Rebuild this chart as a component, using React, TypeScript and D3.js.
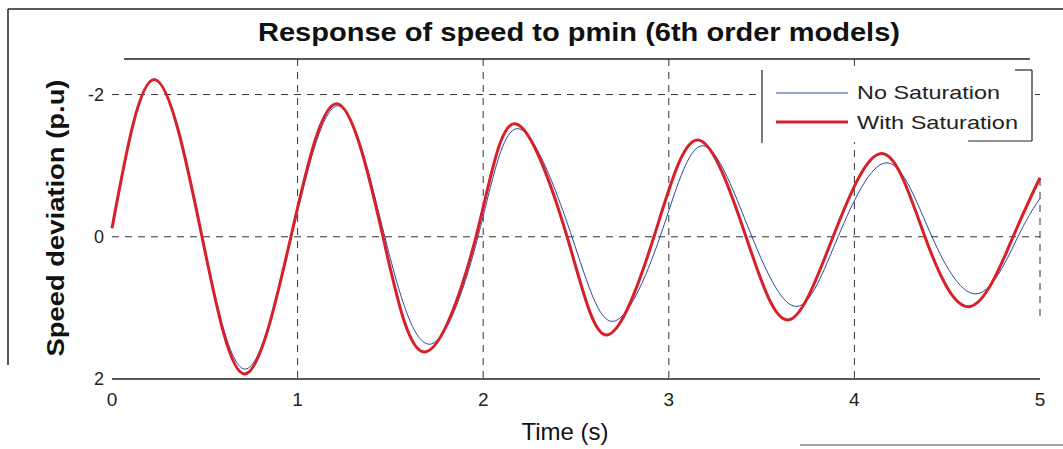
import React from "react";
import * as d3 from "d3";

// values (peaks, troughs, zero crossings)
const timeWith = [0, 0.232, 0.485, 0.717, 0.964, 1.212, 1.46, 1.686, 1.961, 2.171, 2.452, 2.667, 2.92, 3.157, 3.416, 3.642, 3.885, 4.149, 4.38, 4.623, 4.855, 5.0];
const speedWith = [-0.12, -2.21, 0, 1.93, 0, -1.87, 0, 1.62, 0, -1.59, 0, 1.38, 0, -1.36, 0, 1.17, 0, -1.17, 0, 0.98, 0, -0.83];

const timeNo = [0, 0.232, 0.485, 0.72, 0.967, 1.22, 1.47, 1.713, 1.972, 2.188, 2.478, 2.699, 2.953, 3.184, 3.448, 3.691, 3.912, 4.176, 4.418, 4.666, 4.881, 5.0];
const speedNo = [-0.12, -2.2, 0, 1.86, 0, -1.84, 0, 1.51, 0, -1.52, 0, 1.19, 0, -1.28, 0, 0.98, 0, -1.04, 0, 0.8, 0, -0.54];

const xTicks = [0, 1, 2, 3, 4, 5];
const yTicks = [-2, 0, 2];
const gridX = [1, 2, 3, 4];
const gridY = [-2, 0];

const title = "Response of speed to pmin (6th order models)";
const legendLabels = ["No Saturation", "With Saturation"];

const W = 1063;
const H = 449;
const font = "'Liberation Sans', Arial, sans-serif";

export default function App() {
  const x = d3.scaleLinear().domain([0, 5]).range([112, 1040]);
  const y = d3.scaleLinear().domain([-2.5, 2]).range([59, 379]);

  const line = d3
    .line<[number, number]>()
    .x((d) => x(d[0]))
    .y((d) => y(d[1]))
    .curve(d3.curveNatural);

  const withPts = timeWith.map((t, i) => [t, speedWith[i]] as [number, number]);
  const noPts = timeNo.map((t, i) => [t, speedNo[i]] as [number, number]);

  const [x0, x1] = x.range();
  const [yTop, yBot] = y.range();

  return (
    <svg
      width={W}
      height={H}
      style={{ position: "absolute", left: 0, top: 0, background: "#fff" }}
      fontFamily={font}
    >
      {/* outer frame */}
      <line x1={8} y1={9} x2={W} y2={9} stroke="#222" strokeWidth={1.5} />
      <line x1={8} y1={9} x2={8} y2={365} stroke="#222" strokeWidth={1.5} />
      <line x1={800} y1={445} x2={W} y2={445} stroke="#444" strokeWidth={1} />

      <text x={579} y={41} textAnchor="middle" fontSize={25} fontWeight="bold" fill="#111"
        textLength={642} lengthAdjust="spacingAndGlyphs">
        {title}
      </text>

      {/* grid */}
      {gridX.map((g) => (
        <line key={"gx" + g} x1={x(g)} x2={x(g)} y1={yTop} y2={yBot} stroke="#333" strokeWidth={1} strokeDasharray="7,6" />
      ))}
      {gridY.map((g) => (
        <line key={"gy" + g} x1={x0} x2={x1} y1={y(g)} y2={y(g)} stroke="#333" strokeWidth={1} strokeDasharray="7,6" />
      ))}
      <line x1={x1} x2={x1} y1={yTop + 120} y2={yBot - 60} stroke="#333" strokeWidth={1} strokeDasharray="7,6" />

      {/* axes box top/bottom */}
      <line x1={x0 + 12} x2={x1 - 10} y1={yTop} y2={yTop} stroke="#222" strokeWidth={1.5} />
      <line x1={x0} x2={x1} y1={yBot} y2={yBot} stroke="#222" strokeWidth={1.5} />

      {/* series */}
      <path d={line(noPts) || ""} fill="none" stroke="#2b4a9c" strokeWidth={1} />
      <path d={line(withPts) || ""} fill="none" stroke="#d6202a" strokeWidth={3} />

      {/* tick labels */}
      {xTicks.map((t) => (
        <text key={"xt" + t} x={x(t)} y={406} textAnchor="middle" fontSize={19} fill="#222">
          {t}
        </text>
      ))}
      {yTicks.map((t) => (
        <text key={"yt" + t} x={104} y={y(t) + 6} textAnchor="end" fontSize={18} fill="#222">
          {t}
        </text>
      ))}

      <text x={565} y={440} textAnchor="middle" fontSize={24} fill="#111">
        Time (s)
      </text>
      <text
        transform={`translate(64,218) rotate(-90)`}
        textAnchor="middle"
        fontSize={24}
        fontWeight="bold"
        fill="#111"
        textLength={277}
        lengthAdjust="spacingAndGlyphs"
      >
        Speed deviation (p.u)
      </text>

      {/* legend */}
      <rect x={762} y={70} width={270} height={72} fill="#fff" stroke="none" />
      <line x1={762} x2={762} y1={70} y2={143} stroke="#222" strokeWidth={1.2} />
      <line x1={1032} x2={1032} y1={70} y2={141} stroke="#222" strokeWidth={1.2} />
      <line x1={1015} x2={1032} y1={70} y2={70} stroke="#222" strokeWidth={1.2} />
      <line x1={968} x2={1032} y1={141} y2={141} stroke="#222" strokeWidth={1.2} />
      <line x1={776} x2={848} y1={93} y2={93} stroke="#2b4a9c" strokeWidth={1} />
      <line x1={776} x2={848} y1={122} y2={122} stroke="#d6202a" strokeWidth={3} />
      <text x={857} y={99} fontSize={19} fill="#222" textLength={143} lengthAdjust="spacingAndGlyphs">
        {legendLabels[0]}
      </text>
      <text x={857} y={129} fontSize={19} fill="#222" textLength={161} lengthAdjust="spacingAndGlyphs">
        {legendLabels[1]}
      </text>
    </svg>
  );
}
